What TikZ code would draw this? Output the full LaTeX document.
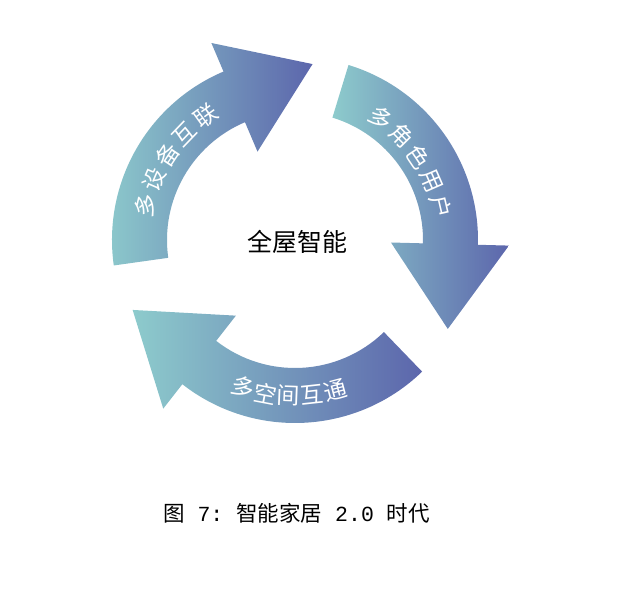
\documentclass[tikz,border=0pt]{standalone}
\usepackage{fontspec}
\newfontfamily\cjk{Noto Sans CJK SC}
\newfontfamily\capmono{Liberation Mono}
\usetikzlibrary{positioning}
\definecolor{bandteal}{RGB}{141,203,204}
\definecolor{bandblue}{RGB}{92,102,172}

% curved arrow: band from angle #1 to angle #2, head at #2
\newcommand{\cyclearrow}[2]{%
\path[band] (#1:183) arc[start angle=#1, end angle=#2, radius=183] -- (#2:214)
  -- ({#2-28.7}:176.8) -- (#2:96) -- (#2:128)
  arc[start angle=#2, end angle=#1, radius=128] -- cycle;}

\begin{document}
\begin{tikzpicture}[x = 1pt, y = 1pt,
  band/.style={left color=bandteal, right color=bandblue},
  bandtext/.style={text=white, font=\cjk\fontsize{23}{23}\selectfont, inner sep=0pt},
  hubtext/.style={font=\cjk\fontsize{25}{25}\selectfont}]
\useasboundingbox (-295,-348) rectangle (341,240);
% Three arrows round the circle
\cyclearrow{188}{113}
\cyclearrow{73}{-1.5}
\cyclearrow{-46}{-128}
% Labels on the arrows
\foreach \ch [count=\i] in {多,设,备,互,联} {
  \pgfmathsetmacro\a{167-10.3*(\i-1)}
  \node[bandtext, rotate=\a-90] (dev\i) at (\a:153) {\ch};
}
\foreach \ch [count=\i] in {多,角,色,用,户} {
  \pgfmathsetmacro\a{55-10.5*(\i-1)}
  \node[bandtext, rotate=\a-90] (role\i) at (\a:149) {\ch};
}
\foreach \ch [count=\i] in {多,空,间,互,通} {
  \pgfmathsetmacro\a{-109.5+8.6*(\i-1)}
  \node[bandtext, rotate=\a+90] (room\i) at (\a:156) {\ch};
}
% Centre
\node[hubtext] (hub) at (2,-2) {全屋智能};
% Caption
\node[font=\fontsize{21.5}{22}\selectfont] (caption) at (1.5,-273)
  {{\cjk 图}{\capmono\ 7:\ }{\cjk 智能家居}{\capmono\ 2.0\ }{\cjk 时代}};
\end{tikzpicture}
\end{document}
